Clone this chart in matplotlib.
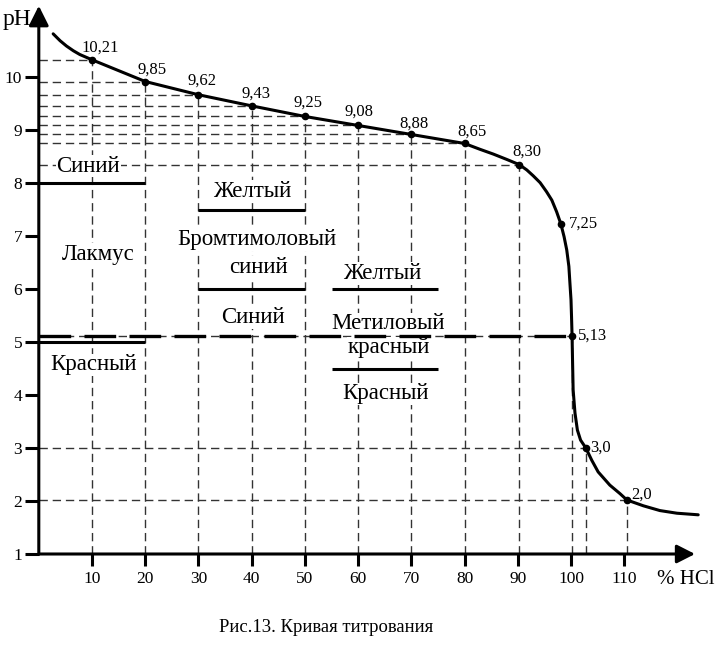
import matplotlib.pyplot as plt

plt.rcParams["font.family"] = ["Liberation Serif", "DejaVu Serif"]

# marked points (positions as drawn) and the values printed next to them
point_x = [10, 20, 30, 40, 50, 60, 70, 80, 90.3, 98.1, 100.1, 102.8, 110.5]
point_ph = [10.33, 9.92, 9.67, 9.46, 9.26, 9.09, 8.92, 8.75, 8.35, 7.23, 5.12, 3.0, 2.02]
point_labels = ["10,21", "9,85", "9,62", "9,43", "9,25", "9,08", "8,88",
                "8,65", "8,30", "7,25", "5,13", "3,0", "2,0"]
# which points get dashed guide lines to the axes
has_guides = [True, True, True, True, True, True, True, True, True, False,
              True, True, True]

# titration curve
curve_x = [2.7, 4.0, 5.2, 6.5, 7.7, 10, 20, 30, 40, 50, 60, 70, 80, 82.9, 85.4,
           87.9, 90.3, 91.7, 92.9, 94.2, 95.4, 96.4, 97.3, 98.1, 98.7, 99.2,
           99.6, 99.8, 100.0, 100.1, 100.2, 100.3, 100.4, 100.75, 101.2, 101.8,
           102.8, 103.9, 105.1, 107.3, 109.2, 110.5, 113.6, 116.7, 119.9, 123.9]
curve_ph = [10.82, 10.69, 10.59, 10.50, 10.43, 10.33, 9.92, 9.67, 9.46, 9.26,
            9.09, 8.92, 8.75, 8.64, 8.55, 8.45, 8.35, 8.25, 8.14, 8.01, 7.84,
            7.68, 7.46, 7.23, 6.99, 6.74, 6.43, 6.11, 5.80, 5.48, 5.12, 4.60,
            4.10, 3.66, 3.34, 3.15, 3.0, 2.77, 2.55, 2.30, 2.14, 2.02, 1.91,
            1.82, 1.77, 1.74]

x_ticks = [10, 20, 30, 40, 50, 60, 70, 80, 90, 100, 110]
y_ticks = [1, 2, 3, 4, 5, 6, 7, 8, 9, 10]

# indicator transition bounds: (x from, x to, pH)
indicator_bounds = [
    (0, 20, 8.0), (0, 20, 5.0),      # litmus
    (30, 50, 7.5), (30, 50, 6.0),    # bromothymol blue
    (55, 75, 6.0), (55, 75, 4.5),    # methyl red
]
indicator_texts = ["Синий", "Лакмус", "Красный",
                   "Желтый", "Бромтимоловый", "синий", "Синий",
                   "Желтый", "Метиловый", "красный", "Красный"]

equivalence_x = 100
equivalence_ph = 5.12

# pixel geometry of the original drawing
W, H = 719, 645
X0_PX, PX_PER_X = 38.8, 5.322
Y1_PX, PX_PER_PH = 554, 52.97


def main() -> None:
    fig = plt.figure(figsize=(W / 100, H / 100), dpi=100)
    x_max = (W - X0_PX) / PX_PER_X
    ph_max = 1 + Y1_PX / PX_PER_PH
    ax = fig.add_axes([X0_PX / W, (H - Y1_PX) / H, (W - X0_PX) / W, Y1_PX / H])
    ax.set_xlim(0, x_max)
    ax.set_ylim(1, ph_max)
    ax.patch.set_alpha(0)
    for spine in ax.spines.values():
        spine.set_visible(False)

    thin = dict(color="#333333", lw=1.0, linestyle=(0, (6.0, 3.5)), zorder=1)
    for x, ph, guide in zip(point_x, point_ph, has_guides):
        if not guide:
            continue
        ax.plot([0, x], [ph, ph], **thin)
        ax.plot([x, x], [1, ph], **thin)

    # equivalence point line, drawn above the labels
    ax.plot([0, equivalence_x], [equivalence_ph, equivalence_ph],
            color="black", lw=2.4, linestyle=(0, (9.5, 4.0)), zorder=6)

    for x_from, x_to, ph in indicator_bounds:
        ax.plot([x_from, x_to], [ph, ph], color="black", lw=2.2,
                solid_capstyle="butt", zorder=6)

    ax.plot(curve_x, curve_ph, color="black", lw=2.2, zorder=3,
            solid_capstyle="round", solid_joinstyle="round")
    ax.plot(point_x, point_ph, "o", color="black", ms=4.5, zorder=4)

    offsets = [(8, 12), (7, 11.5), (4, 14), (4, 12.5), (3, 13.5), (1, 14),
               (2.5, 11), (7.5, 11.5), (7, 13), (8, 0), (6, 0), (4, 0), (4, 5)]
    for x, ph, label, (dx, dy) in zip(point_x, point_ph, point_labels, offsets):
        ax.annotate(label, (x, ph), textcoords="offset pixels",
                    xytext=(dx, dy), ha="center" if dy > 6 else "left",
                    va="center", fontsize=12, zorder=5)

    text_pos = [(9.3, 8.22), (11.1, 6.55), (10.3, 4.47),
                (40.0, 7.745), (40.9, 6.83), (41.3, 6.31), (40.2, 5.355),
                (64.5, 6.19), (65.7, 5.24), (65.8, 4.79), (65.2, 3.92)]
    for text, (x, ph) in zip(indicator_texts, text_pos):
        ax.text(x, ph, text, ha="center", va="baseline", fontsize=16.5,
                zorder=5, bbox=dict(facecolor="white", edgecolor="none", pad=0.5))

    # axes with arrow heads
    ax.annotate("", xy=(123.3, 1), xytext=(0, 1),
                arrowprops=dict(arrowstyle="-|>,head_length=0.55,head_width=0.28",
                                mutation_scale=20, lw=2.2, color="black",
                                shrinkA=0, shrinkB=0), annotation_clip=False)
    ax.annotate("", xy=(0, 11.35), xytext=(0, 1),
                arrowprops=dict(arrowstyle="-|>,head_length=0.6,head_width=0.3",
                                mutation_scale=20, lw=2.2, color="black",
                                shrinkA=0, shrinkB=0), annotation_clip=False)

    ax.set_xticks(x_ticks)
    ax.set_xticklabels([str(t) for t in x_ticks])
    ax.set_yticks(y_ticks)
    ax.set_yticklabels([str(t) for t in y_ticks])
    ax.tick_params(axis="x", direction="out", length=8.5, width=2.2,
                   pad=3.5, labelsize=12.5)
    ax.tick_params(axis="y", direction="out", length=10, width=2.2,
                   pad=2, labelsize=12.5)

    fig.text(17 / W, 1 - 19 / H, "pH", ha="center", va="center", fontsize=17)
    fig.text(686 / W, 1 - 580 / H, "% HCl", ha="center", va="center", fontsize=15)
    fig.text(326 / W, 1 - 627 / H, "Рис.13. Кривая титрования",
             ha="center", va="center", fontsize=13.4)

    fig.savefig("out.png", dpi=100)


if __name__ == "__main__":
    main()
